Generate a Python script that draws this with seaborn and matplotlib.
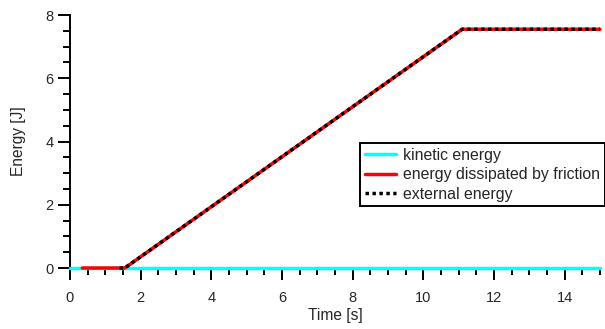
import numpy as np
import pandas as pd
import matplotlib
matplotlib.use("Agg")
import matplotlib.pyplot as plt
from matplotlib.ticker import MultipleLocator
import seaborn as sns

# values
t_kin = [0.0, 15.0]
e_kin = [0.0, 0.0]

t_fric = [0.35, 1.55, 11.1, 15.0]
e_fric = [0.0, 0.0, 7.55, 7.55]

t_ext = [1.4, 1.55, 11.1, 15.0]
e_ext = [0.0, 0.0, 7.55, 7.55]

sns.set_style("white")
plt.rcParams['font.family'] = ['Liberation Sans', 'DejaVu Sans']

fig = plt.figure(figsize=(6.05, 3.29), dpi=100)
ax = fig.add_axes([0.1157, 0.1854, 0.876, 0.769])

sns.lineplot(x=t_kin, y=e_kin, ax=ax, color='#00ffff', lw=2.5, label='kinetic energy',
             clip_on=False, zorder=5)
sns.lineplot(x=t_fric, y=e_fric, ax=ax, color='#ff0000', lw=2.5,
             label='energy dissipated by friction', clip_on=False, zorder=6)
sns.lineplot(x=t_ext, y=e_ext, ax=ax, color='black', lw=2.5, ls=(0, (1, 1)),
             label='external energy', clip_on=False, zorder=7)

ax.set_xlim(0, 15)
ax.set_ylim(0, 8)
ax.xaxis.set_major_locator(MultipleLocator(2))
ax.xaxis.set_minor_locator(MultipleLocator(0.5))
ax.yaxis.set_major_locator(MultipleLocator(2))
ax.yaxis.set_minor_locator(MultipleLocator(0.5))
ax.tick_params(which='major', direction='out', length=8.5, width=1.4,
               labelsize=10.5, bottom=True, left=True, color='black')
ax.tick_params(axis='x', which='major', pad=8)
ax.tick_params(axis='y', which='major', pad=3.5)
ax.tick_params(which='minor', direction='out', length=5, width=1.4,
               bottom=True, left=True, color='black')
for s in ['top', 'right']:
    ax.spines[s].set_visible(False)
for s in ['left', 'bottom']:
    ax.spines[s].set_color('black')
    ax.spines[s].set_linewidth(1.4)
    ax.spines[s].set_zorder(2)

ax.set_xlabel('Time [s]', fontsize=11.2, labelpad=2)
ax.set_ylabel('Energy [J]', fontsize=11.2, labelpad=14)

leg = ax.legend(loc='upper left', bbox_to_anchor=(0.547, 0.494), fontsize=11.4,
                frameon=True, fancybox=False, edgecolor='black', framealpha=1,
                handlelength=2.0, handletextpad=0.45, borderpad=0.3,
                labelspacing=0.28, borderaxespad=0)
leg.get_frame().set_linewidth(1.4)
leg.set_zorder(10)

fig.savefig("out.png", dpi=100)
